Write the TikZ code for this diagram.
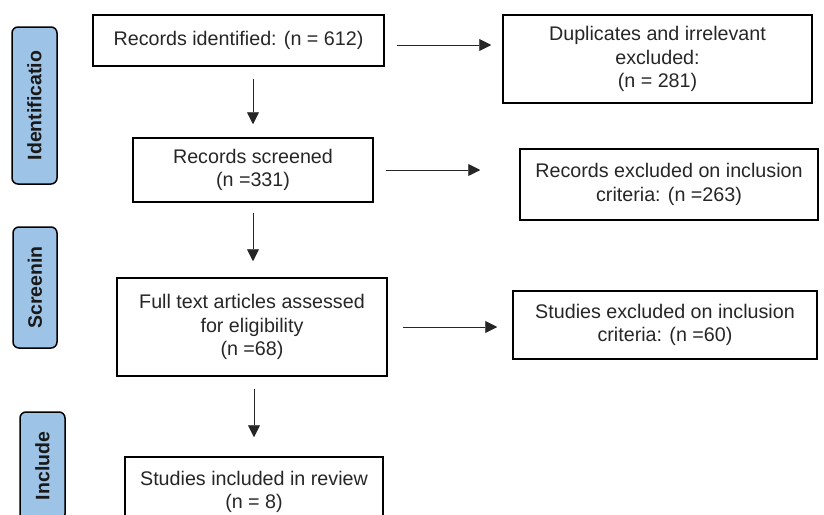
\documentclass[tikz,border=0pt]{standalone}
\usepackage{fontspec}
\setmainfont{Liberation Sans}
\usetikzlibrary{arrows.meta,calc}
\definecolor{sideblue}{HTML}{9DC3E6}
\definecolor{txt}{HTML}{262626}
\begin{document}
\begin{tikzpicture}[x=1pt,y=-1pt,
  box/.style={draw=black, line width=1.5pt, inner sep=0pt, align=center, text=txt,
    font=\fontsize{19.7}{23.5}\selectfont},
  side/.style={draw=black, line width=1.5pt, fill=sideblue, rounded corners=6pt, rotate=90,
    inner sep=0pt, font=\fontsize{19.5}{23}\selectfont\bfseries, text=black!90},
  arr/.style={draw=black!85, line width=0.9pt, -{Triangle[length=12pt,width=12pt]}}]
\useasboundingbox (0,0) rectangle (824,514);
\clip (0,0) rectangle (824,514);
% side labels
\node[side, minimum width=157, minimum height=45] (sid) at (34.5,105.5) {Identificatio};
\node[side, minimum width=121, minimum height=44] (sscr) at (35,287.5) {Screenin};
\node[side, minimum width=108, minimum height=45] (sinc) at (42.5,466) {Include};
% boxes
\node[box, minimum width=291, minimum height=51] (rid) at (238.5,40.5) {Records identified: (n = 612)};
\node[box, minimum width=309, minimum height=88] (dup) at (657.5,59) {Duplicates and irrelevant\\excluded:\\(n = 281)};
\node[box, minimum width=240, minimum height=64] (scr) at (253,170) {Records screened\\(n =331)};
\node[box, minimum width=298, minimum height=71] (rex) at (669,184.5) {Records excluded on inclusion\\criteria: (n =263)};
\node[box, minimum width=270, minimum height=98] (full) at (252,327) {Full text articles assessed\\for eligibility\\(n =68)};
\node[box, minimum width=304, minimum height=68] (sex) at (665,325) {Studies excluded on inclusion\\criteria: (n =60)};
\node[box, minimum width=258, minimum height=70] (inc) at (254,492) {Studies included in review\\(n = 8)};
% horizontal arrows
\coordinate (h1) at ($(rid.east)+(12,4.5)$);
\draw[arr, shorten >=11pt] (h1) -- (h1 -| dup.west);
\draw[arr, shorten <=12pt, shorten >=39pt] (scr.east) -- (scr.east -| rex.west);
\draw[arr, shorten <=15pt, shorten >=15pt] (full.east) -- (full.east -| sex.west);
% vertical arrows
\draw[arr, shorten <=12pt, shorten >=13pt] (rid.south -| scr.north) -- (scr.north);
\draw[arr, shorten <=10pt, shorten >=16pt] (scr.south) -- (scr.south |- full.north);
\draw[arr, shorten <=12pt, shorten >=19pt] (full.south -| inc.north) -- (inc.north);
\end{tikzpicture}
\end{document}
